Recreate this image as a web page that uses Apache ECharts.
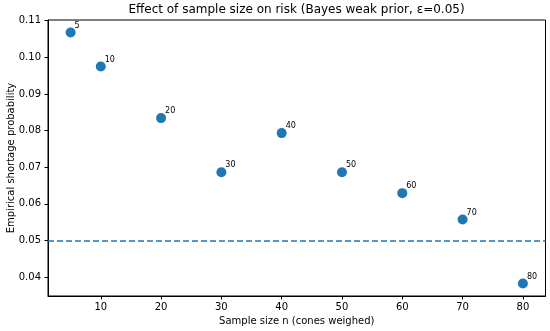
<!DOCTYPE html>
<html>
<head>
<meta charset="utf-8">
<script src="https://cdn.jsdelivr.net/npm/echarts@6/dist/echarts.min.js"></script>
<style>html,body{margin:0;padding:0;background:#fff}#c{width:550px;height:331px}</style>
</head>
<body>
<div id="c"></div>
<script>
const sampleSizes = [5, 10, 20, 30, 40, 50, 60, 70, 80];
const shortageProb = [0.1068, 0.0975, 0.0834, 0.0686, 0.0793, 0.0686, 0.0629, 0.0557, 0.0382];
const epsilon = 0.05;
const xTicks = [10, 20, 30, 40, 50, 60, 70, 80];
const yTicks = [0.04, 0.05, 0.06, 0.07, 0.08, 0.09, 0.10, 0.11];

const FONT = 'DejaVu Sans';
const chart = echarts.init(document.getElementById('c'), null, {renderer: 'canvas'});
const points = sampleSizes.map((n, i) => [n, shortageProb[i]]);

chart.setOption({
  animation: false,
  backgroundColor: '#fff',
  textStyle: {fontFamily: FONT},
  title: {
    text: 'Effect of sample size on risk (Bayes weak prior, ε=0.05)',
    left: 296.5, top: 4, padding: 0, textAlign: 'center',
    textStyle: {fontFamily: FONT, fontSize: 12, fontWeight: 'normal', color: '#000'}
  },
  grid: {left: 48, right: 4.5, top: 20, bottom: 35, containLabel: false, outerBoundsMode: 'none',
    show: true, borderColor: '#000', borderWidth: 1, backgroundColor: 'transparent'},
  xAxis: {
    type: 'value', min: 1.25, max: 83.75,
    name: 'Sample size n (cones weighed)', nameLocation: 'middle', nameGap: 20, nameMoveOverlap: false,
    nameTextStyle: {fontFamily: FONT, fontSize: 10, color: '#000'},
    axisLine: {show: true, lineStyle: {color: '#000', width: 1}},
    axisTick: {show: true, length: 3.5, lineStyle: {color: '#000'}, customValues: xTicks},
    axisLabel: {fontFamily: FONT, fontSize: 10, color: '#000', margin: 6, customValues: xTicks},
    splitLine: {show: false}
  },
  yAxis: {
    type: 'value', min: 0.0348, max: 0.1102,
    name: 'Empirical shortage probability', nameLocation: 'middle', nameGap: 31.5, nameMoveOverlap: false,
    nameTextStyle: {fontFamily: FONT, fontSize: 10, color: '#000'},
    axisLine: {show: true, lineStyle: {color: '#000', width: 1}},
    axisTick: {show: true, length: 3.5, lineStyle: {color: '#000'}, customValues: yTicks},
    axisLabel: {fontFamily: FONT, fontSize: 10, color: '#000', margin: 7, customValues: yTicks,
      formatter: v => v.toFixed(2)},
    splitLine: {show: false}
  },
  series: [{
    type: 'scatter',
    data: points,
    symbolSize: 10,
    itemStyle: {color: '#1f77b4', opacity: 1},
    label: {
      show: true, position: 'right', distance: 0, offset: [-1, -7],
      fontFamily: FONT, fontSize: 8, color: '#000',
      formatter: p => String(p.value[0])
    },
    markLine: {
      silent: true, symbol: ['none', 'none'], label: {show: false},
      lineStyle: {color: '#1f77b4', type: [6, 3], width: 1.5},
      data: [{yAxis: epsilon}]
    }
  }]
});
</script>
</body>
</html>
